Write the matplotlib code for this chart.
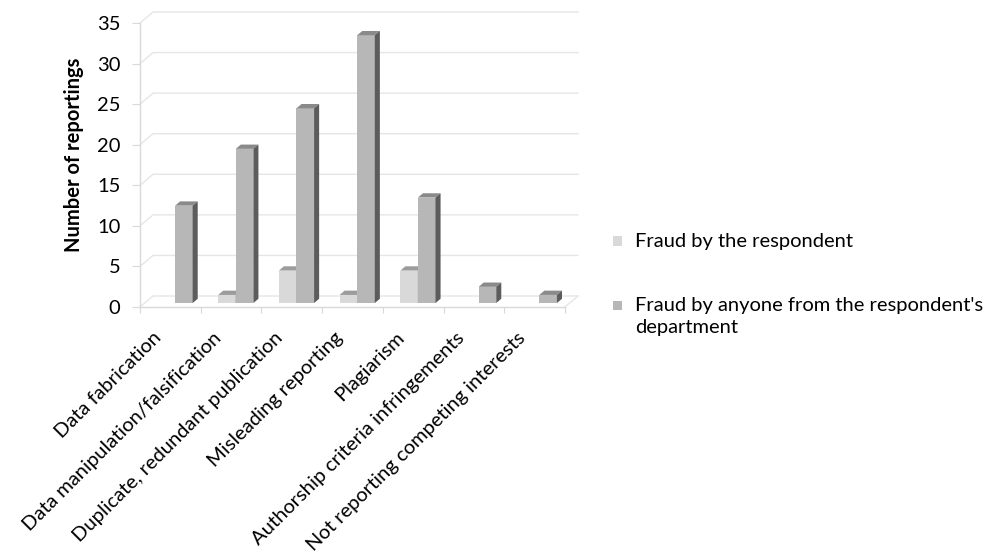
import matplotlib
matplotlib.use("Agg")
import matplotlib.pyplot as plt
from matplotlib.patches import Polygon, Rectangle
from matplotlib.transforms import offset_copy

plt.rcParams['font.family'] = ['Lato', 'DejaVu Sans']

categories = ["Data fabrication", "Data manipulation/falsification",
              "Duplicate, redundant publication", "Misleading reporting",
              "Plagiarism", "Authorship criteria infringements",
              "Not reporting competing interests"]
respondent = [0, 1, 4, 1, 4, 0, 0]
department = [12, 19, 24, 33, 13, 2, 1]
series_names = ["Fraud by the respondent",
                "Fraud by anyone from the respondent's\ndepartment"]
yticks = list(range(0, 36, 5))

W, H = 1002, 560
FS = 14.5
fig = plt.figure(figsize=(W / 100, H / 100), dpi=100)
# front plane of the plot: x 140..565 px, value 0 at 307 px, 35 at 23 px
ax = fig.add_axes([140 / W, (H - 307) / H, 425 / W, 284 / H])
ax.set_xlim(0, 7)
ax.set_ylim(0, 35)

# depth of the 3d box in data units (13 px right, 11 px up)
DX = 13 / 60.7
DY = 11 / (284 / 35)
grid_col = "#e6e6e6"

# side wall + back wall gridlines
for v in yticks:
    ax.plot([0, DX, 7 + DX], [v, v + DY, v + DY], color=grid_col, lw=1,
            clip_on=False, zorder=1)
ax.plot([7, 7 + DX], [0, DY], color=grid_col, lw=1, clip_on=False, zorder=1)

# bars with a fake 3d look
colors = {
    0: ("#d9d9d9", "#9c9c9c", "#7f7f7f"),
    1: ("#b7b7b7", "#8a8a8a", "#5c5c5c"),
}
bw = 0.29
d1, d2 = 0.36, 0.75
for i in range(len(categories)):
    for s, vals in enumerate([respondent, department]):
        v = vals[i]
        if v == 0:
            continue
        front, top, side = colors[s]
        x0 = i + 0.5 - bw + s * bw + d1 * DX
        x1 = x0 + bw
        y0 = d1 * DY
        y1 = v + d1 * DY
        ex, ey = (d2 - d1) * DX, (d2 - d1) * DY
        ax.add_patch(Rectangle((x0, y0), bw, v, facecolor=front,
                               edgecolor="none", zorder=3 + s, clip_on=False))
        ax.add_patch(Polygon([(x0, y1), (x1, y1), (x1 + ex, y1 + ey), (x0 + ex, y1 + ey)],
                             facecolor=top, edgecolor="none", zorder=3 + s, clip_on=False))
        ax.add_patch(Polygon([(x1, y0), (x1, y1), (x1 + ex, y1 + ey), (x1 + ex, y0 + ey)],
                             facecolor=side, edgecolor="none", zorder=3 + s, clip_on=False))

# axes styling
for sp in ["top", "right"]:
    ax.spines[sp].set_visible(False)
for sp in ["left", "bottom"]:
    ax.spines[sp].set_color("#d9d9d9")
    ax.spines[sp].set_linewidth(1)
ax.set_facecolor("none")
ax.set_yticks(yticks)
ax.set_yticklabels([str(t) for t in yticks], fontsize=FS)
ax.set_xticks(range(8))
ax.set_xticklabels([])
ax.tick_params(axis="y", length=6, color="#d9d9d9", pad=8)
ax.tick_params(axis="x", length=4.5, color="#d9d9d9")

lab_tr = offset_copy(ax.transData, fig=fig, x=-6, y=-22, units="dots")
for i, c in enumerate(categories):
    ax.text(i + 0.5, 0, c, rotation=45, ha="right", va="top",
            fontsize=FS, transform=lab_tr)

fig.text(74 / W, 1 - 155 / H, "Number of reportings", rotation=90,
         ha="center", va="center", fontsize=FS, fontweight="bold")

# legend
leg_y = [241, 305]
for s, name in enumerate(series_names):
    y = leg_y[s]
    fig.patches.append(Rectangle((613 / W, 1 - (y + 4.5) / H), 9 / W, 9 / H,
                                 facecolor=colors[s][0], edgecolor="none",
                                 transform=fig.transFigure, figure=fig))
    lines = name.split("\n")
    for k, line in enumerate(lines):
        fig.text(635 / W, 1 - (y + 22 * k) / H, line, ha="left", va="center",
                 fontsize=FS)

fig.savefig("out.png", dpi=100)
